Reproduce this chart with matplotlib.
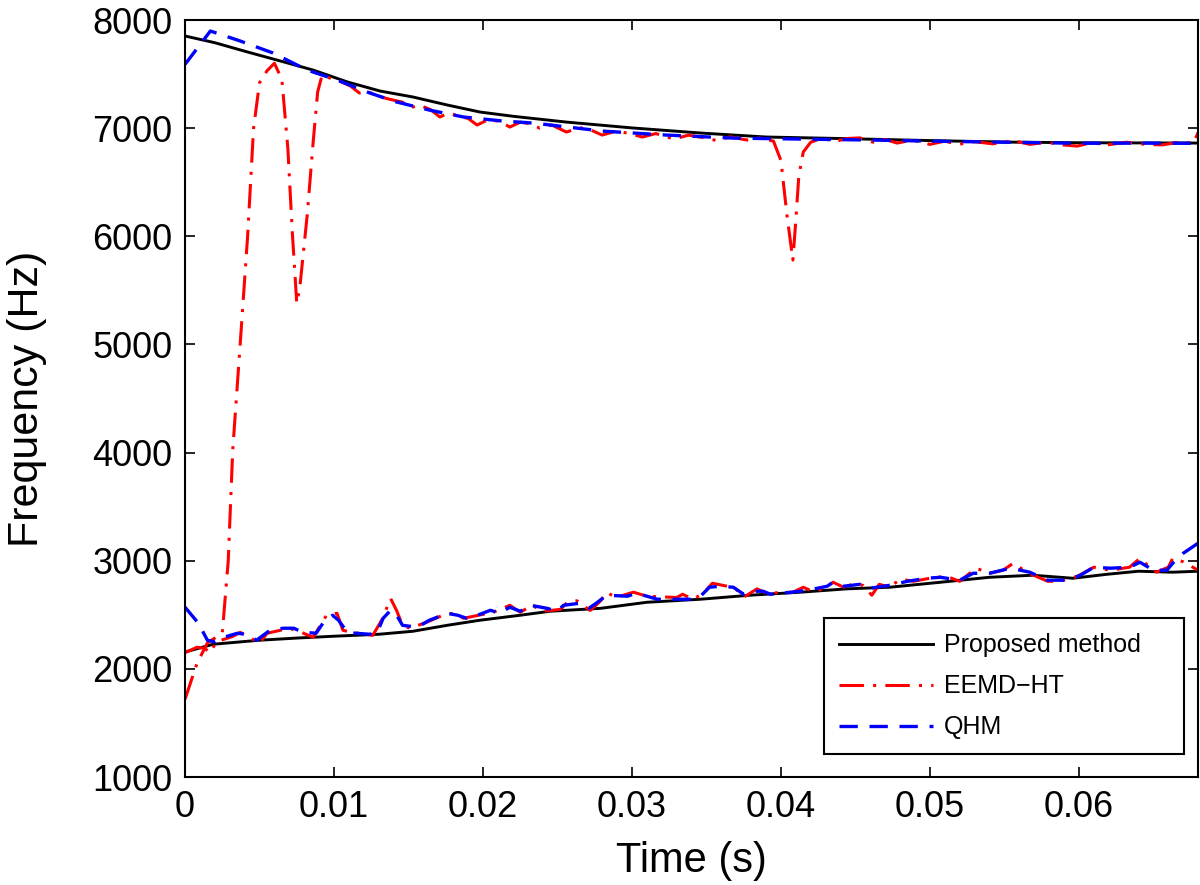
import matplotlib
matplotlib.use('Agg')
import matplotlib.pyplot as plt

# proposed method, upper and lower components
t_prop_hi = [0, 0.002, 0.0042, 0.0064, 0.0086, 0.0109, 0.0131, 0.0153, 0.0176, 0.0198,
             0.022, 0.0256, 0.0301, 0.0346, 0.039, 0.0444, 0.05, 0.0552, 0.06, 0.068]
f_prop_hi = [7852, 7790, 7704, 7621, 7537, 7427, 7343, 7288, 7214, 7149,
             7110, 7056, 7001, 6955, 6918, 6903, 6885, 6871, 6865, 6862]

t_prop_lo = [0, 0.0019, 0.005, 0.0075, 0.01, 0.013, 0.0153, 0.0176, 0.0198, 0.0225,
             0.0245, 0.0279, 0.031, 0.0346, 0.0379, 0.0413, 0.0444, 0.0473, 0.0507, 0.054,
             0.0569, 0.0596, 0.0619, 0.064, 0.0663, 0.068]
f_prop_lo = [2156, 2228, 2265, 2285, 2302, 2320, 2348, 2403, 2450, 2496,
             2533, 2560, 2616, 2644, 2681, 2709, 2740, 2755, 2801, 2847,
             2866, 2838, 2875, 2903, 2894, 2903]

# EEMD-HT
t_eemd_hi = [0, 0.0008, 0.0015, 0.0025, 0.0029, 0.0032, 0.0037, 0.0042, 0.0046, 0.005,
             0.0055, 0.006, 0.0065, 0.0069, 0.0072, 0.0075, 0.0077, 0.0082, 0.0086, 0.0089,
             0.0092, 0.0095, 0.0103, 0.0111, 0.0117, 0.0124, 0.0131, 0.0138, 0.0146, 0.0151,
             0.0157, 0.0165, 0.0171, 0.0177, 0.0184, 0.019, 0.0196, 0.0203, 0.0211, 0.0218,
             0.0225, 0.0232, 0.0238, 0.0246, 0.0256, 0.0265, 0.0272, 0.028, 0.029, 0.0298,
             0.0307, 0.0316, 0.0328, 0.0338, 0.0347, 0.0357, 0.0366, 0.0377, 0.0386, 0.0395,
             0.04, 0.0404, 0.0408, 0.041, 0.0412, 0.0415, 0.042, 0.0427, 0.0437, 0.0445,
             0.0453, 0.0462, 0.047, 0.0478, 0.0488, 0.05, 0.051, 0.0519, 0.053, 0.0542,
             0.0556, 0.0567, 0.0578, 0.0589, 0.0599, 0.0608, 0.0619, 0.0632, 0.0645, 0.0656,
             0.0667, 0.0677, 0.068]
f_eemd_hi = [1720, 2050, 2240, 2330, 3000, 4020, 5000, 6000, 7000, 7420,
             7530, 7600, 7450, 6816, 6039, 5380, 5521, 6196, 6871, 7334,
             7491, 7473, 7440, 7390, 7325, 7330, 7290, 7265, 7240, 7186,
             7215, 7170, 7103, 7140, 7110, 7090, 7029, 7075, 7065, 7010,
             7055, 7040, 7000, 7030, 6964, 7005, 6985, 6936, 6975, 6950,
             6918, 6950, 6899, 6935, 6915, 6885, 6920, 6890, 6910, 6880,
             6700, 6200, 5780, 6150, 6560, 6780, 6870, 6905, 6880, 6905,
             6910, 6870, 6895, 6862, 6890, 6850, 6880, 6850, 6875, 6855,
             6885, 6850, 6870, 6845, 6834, 6865, 6845, 6870, 6850, 6845,
             6870, 6862, 6960]

t_eemd_lo = [0, 0.0008, 0.0013, 0.0017, 0.0021, 0.0032, 0.0037, 0.0042, 0.005, 0.0055,
             0.007, 0.0078, 0.0086, 0.0095, 0.0102, 0.0106, 0.0111, 0.0126, 0.0132, 0.0138,
             0.0142, 0.0146, 0.0151, 0.0162, 0.0173, 0.018, 0.0187, 0.0197, 0.0207, 0.0218,
             0.0225, 0.0233, 0.024, 0.0252, 0.0256, 0.0263, 0.0272, 0.0279, 0.0283, 0.0289,
             0.0301, 0.031, 0.033, 0.0334, 0.0341, 0.0348, 0.0354, 0.0364, 0.037, 0.0375,
             0.0384, 0.039, 0.0408, 0.0415, 0.0421, 0.0428, 0.0435, 0.0442, 0.0448, 0.0455,
             0.0461, 0.0466, 0.0473, 0.048, 0.0489, 0.05, 0.0511, 0.052, 0.0531, 0.054,
             0.0549, 0.0556, 0.0565, 0.0579, 0.0587, 0.0599, 0.061, 0.0621, 0.0634, 0.0641,
             0.0646, 0.0652, 0.066, 0.0663, 0.067, 0.068]
f_eemd_lo = [2150, 2200, 2190, 2150, 2250, 2300, 2338, 2300, 2237, 2329,
             2376, 2338, 2292, 2496, 2514, 2357, 2340, 2310, 2450, 2650,
             2540, 2403, 2376, 2430, 2496, 2514, 2468, 2496, 2524, 2588,
             2524, 2588, 2533, 2550, 2607, 2630, 2540, 2630, 2709, 2660,
             2709, 2672, 2660, 2690, 2644, 2700, 2792, 2764, 2736, 2663,
             2740, 2700, 2709, 2755, 2718, 2736, 2801, 2755, 2782, 2773,
             2681, 2782, 2755, 2829, 2810, 2838, 2856, 2810, 2931, 2884,
             2912, 2977, 2894, 2810, 2810, 2856, 2940, 2912, 2940, 3023,
             2960, 2894, 2940, 3023, 2990, 2912]

# QHM
t_qhm_hi = [0, 0.0017, 0.0037, 0.0059, 0.0082, 0.0102, 0.0124, 0.0142, 0.0164, 0.0187,
            0.0213, 0.0234, 0.028, 0.0323, 0.0368, 0.0413, 0.046, 0.05, 0.055, 0.06,
            0.064, 0.068]
f_qhm_hi = [7590, 7898, 7806, 7695, 7537, 7445, 7325, 7242, 7167, 7103,
            7066, 7047, 6973, 6936, 6908, 6899, 6890, 6880, 6870, 6860,
            6862, 6860]

t_qhm_lo = [0, 0.0009, 0.0015, 0.002, 0.0026, 0.0035, 0.0041, 0.0048, 0.0057, 0.0066,
            0.0073, 0.0079, 0.0088, 0.0093, 0.0099, 0.0103, 0.0109, 0.0115, 0.0124, 0.0129,
            0.0133, 0.0138, 0.0142, 0.0146, 0.0156, 0.0164, 0.0176, 0.0183, 0.0189, 0.0198,
            0.0205, 0.0211, 0.0218, 0.0225, 0.0232, 0.0243, 0.025, 0.0254, 0.0265, 0.0271,
            0.0276, 0.0283, 0.0297, 0.0303, 0.031, 0.0317, 0.0339, 0.0346, 0.0352, 0.0359,
            0.0368, 0.0375, 0.0381, 0.0388, 0.0393, 0.0401, 0.0413, 0.0421, 0.0431, 0.0435,
            0.0442, 0.0453, 0.046, 0.0473, 0.0485, 0.0498, 0.0507, 0.052, 0.0529, 0.054,
            0.0554, 0.0567, 0.0579, 0.0592, 0.0601, 0.061, 0.0621, 0.0634, 0.0641, 0.065,
            0.0659, 0.0663, 0.067, 0.068]
f_qhm_lo = [2570, 2422, 2265, 2250, 2292, 2329, 2320, 2265, 2357, 2376,
            2376, 2338, 2330, 2431, 2496, 2450, 2338, 2329, 2320, 2338,
            2468, 2542, 2496, 2403, 2385, 2450, 2514, 2496, 2468, 2505,
            2542, 2514, 2570, 2533, 2588, 2560, 2533, 2588, 2607, 2560,
            2607, 2681, 2672, 2700, 2672, 2644, 2644, 2672, 2755, 2764,
            2755, 2690, 2718, 2718, 2690, 2700, 2718, 2736, 2764, 2801,
            2764, 2782, 2746, 2773, 2810, 2838, 2847, 2820, 2884, 2884,
            2931, 2894, 2820, 2820, 2866, 2940, 2931, 2940, 2986, 2912,
            2912, 2977, 3069, 3162]

x_ticks = [0, 0.01, 0.02, 0.03, 0.04, 0.05, 0.06]
x_tick_labels = ['0', '0.01', '0.02', '0.03', '0.04', '0.05', '0.06']
y_ticks = [1000, 2000, 3000, 4000, 5000, 6000, 7000, 8000]

# trailing spaces widen the legend box like the original
legend_labels = ['Proposed method    ', 'EEMD\u2212HT', 'QHM']


def main():
    plt.rcParams['font.family'] = ['Liberation Sans', 'DejaVu Sans']

    fig = plt.figure(figsize=(12, 8.85), dpi=100)
    ax = fig.add_axes([0.1542, 0.122, 0.8442, 0.8554])

    ax.plot(t_prop_hi, f_prop_hi, color='k', lw=2.1, label=legend_labels[0])
    ax.plot(t_prop_lo, f_prop_lo, color='k', lw=2.1, label='_nolegend_')

    red_style = (0, (8, 3, 1, 3))
    ax.plot(t_eemd_hi, f_eemd_hi, color='r', lw=2.2, ls=red_style, label=legend_labels[1])
    ax.plot(t_eemd_lo, f_eemd_lo, color='r', lw=2.2, ls=red_style, label='_nolegend_')

    blue_style = (0, (5.5, 3.5))
    ax.plot(t_qhm_hi, f_qhm_hi, color='b', lw=2.4, ls=blue_style, label=legend_labels[2])
    ax.plot(t_qhm_lo, f_qhm_lo, color='b', lw=2.4, ls=blue_style, label='_nolegend_')

    ax.set_xlim(0, 0.068)
    ax.set_ylim(1000, 8000)
    ax.set_xticks(x_ticks)
    ax.set_xticklabels(x_tick_labels)
    ax.set_yticks(y_ticks)

    ax.tick_params(direction='in', length=7, width=1.2, top=True, right=True,
                   labelsize=26, pad=9)
    for s in ax.spines.values():
        s.set_linewidth(1.5)

    ax.set_xlabel('Time (s)', fontsize=30)
    ax.set_ylabel('Frequency (Hz)', fontsize=31)
    ax.xaxis.set_label_coords(0.5, -0.085)
    ax.yaxis.set_label_coords(-0.136, 0.5)

    leg = ax.legend(loc='lower right', bbox_to_anchor=(0.986, 0.030), borderaxespad=0,
                    fontsize=18, fancybox=False, framealpha=1, edgecolor='k',
                    handlelength=3.76, handletextpad=0.44, labelspacing=0.68,
                    borderpad=0.6)
    leg.get_frame().set_linewidth(1.5)

    fig.savefig('out.png', dpi=100)


if __name__ == '__main__':
    main()
